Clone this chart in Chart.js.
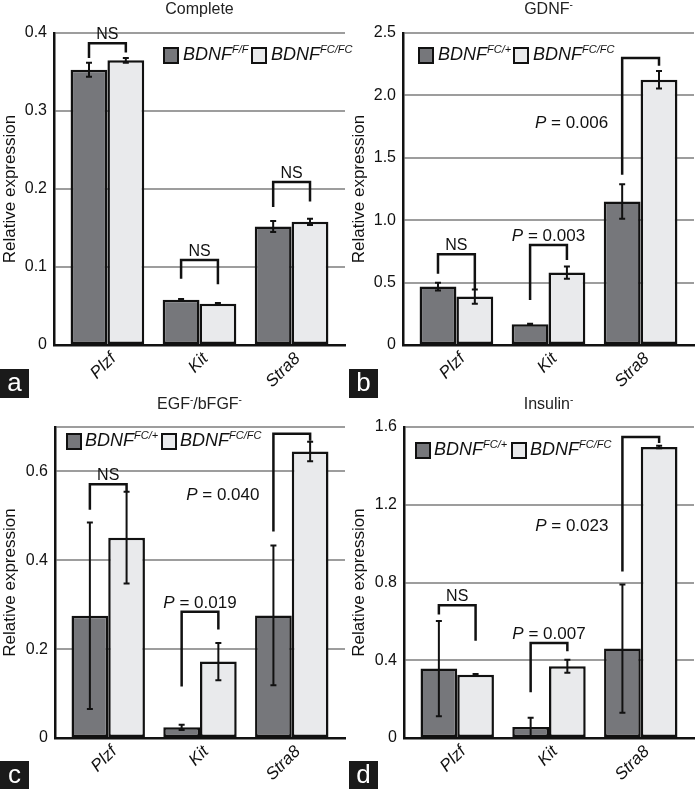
<!DOCTYPE html>
<html>
<head>
<meta charset="utf-8">
<script src="https://cdn.jsdelivr.net/npm/chart.js@4.4.1/dist/chart.umd.min.js"></script>
<style>
body { margin: 0; background: #fff; font-family: "Liberation Sans", Arial, sans-serif; }
#fig { position: relative; width: 698px; height: 789px; overflow: hidden; }
.panel { position: absolute; width: 349px; height: 395px; }
.panel canvas { position: absolute; left: 0; top: 0; }
.title { position: absolute; top: 0; left: 54px; width: 291px; text-align: center; font-size: 16px; line-height: 18px; color: #222; }
.title sup { font-size: 10px; vertical-align: 6px; line-height: 0; }
.legend { position: absolute; font-size: 18px; font-style: italic; color: #111; white-space: nowrap; }
.legend .key { position: absolute; top: 0; width: 12px; height: 13px; border: 2.5px solid #111; }
.legend .txt { position: absolute; top: -2px; line-height: 18px; }
.legend sup { font-size: 11px; vertical-align: 7px; line-height: 0; }
.letter { position: absolute; width: 29px; height: 29px; background: #1a1a1a; color: #fff; font-size: 26px; line-height: 26px; text-align: center; }
</style>
</head>
<body>
<div id="fig">
  <div class="panel" style="left:0;top:0">
    <canvas id="chartA" width="349" height="395"></canvas>
    <div class="title">Complete</div>
    <div class="legend" style="left:163px;top:47px">
      <span class="key" style="left:0;background:#76777b"></span><span class="txt" style="left:20px">BDNF<sup>F/F</sup></span>
      <span class="key" style="left:88px;background:#e9eaec"></span><span class="txt" style="left:108px">BDNF<sup>FC/FC</sup></span>
    </div>
    <div class="letter" style="left:0;top:369px">a</div>
  </div>
  <div class="panel" style="left:349px;top:0">
    <canvas id="chartB" width="349" height="395"></canvas>
    <div class="title">GDNF<sup>-</sup></div>
    <div class="legend" style="left:69px;top:47px">
      <span class="key" style="left:0;background:#76777b"></span><span class="txt" style="left:20px">BDNF<sup>FC/+</sup></span>
      <span class="key" style="left:95px;background:#e9eaec"></span><span class="txt" style="left:115px">BDNF<sup>FC/FC</sup></span>
    </div>
    <div class="letter" style="left:0;top:369px">b</div>
  </div>
  <div class="panel" style="left:0;top:395px">
    <canvas id="chartC" width="349" height="395"></canvas>
    <div class="title">EGF<sup>-</sup>/bFGF<sup>-</sup></div>
    <div class="legend" style="left:66px;top:38px">
      <span class="key" style="left:0;background:#76777b"></span><span class="txt" style="left:19px">BDNF<sup>FC/+</sup></span>
      <span class="key" style="left:95px;background:#e9eaec"></span><span class="txt" style="left:114px">BDNF<sup>FC/FC</sup></span>
    </div>
    <div class="letter" style="left:0;top:366px">c</div>
  </div>
  <div class="panel" style="left:349px;top:395px">
    <canvas id="chartD" width="349" height="395"></canvas>
    <div class="title">Insulin<sup>-</sup></div>
    <div class="legend" style="left:66px;top:47px">
      <span class="key" style="left:0;background:#76777b"></span><span class="txt" style="left:19px">BDNF<sup>FC/+</sup></span>
      <span class="key" style="left:96px;background:#e9eaec"></span><span class="txt" style="left:115px">BDNF<sup>FC/FC</sup></span>
    </div>
    <div class="letter" style="left:0;top:366px">d</div>
  </div>
</div>

<script>
// Shared categories
var genes = ['Plzf', 'Kit', 'Stra8'];

// a: Complete
var completeCtrl = [0.353, 0.058, 0.152];
var completeCtrlErr = [0.009, 0.001, 0.007];
var completeKo = [0.365, 0.053, 0.158];
var completeKoErr = [0.003, 0.001, 0.004];
var completeTicks = [0, 0.1, 0.2, 0.3, 0.4];
var completeTickLabels = ['0', '0.1', '0.2', '0.3', '0.4'];
var completeBracketTop = [0.387, 0.109, 0.209];
var completeLegLeft = [0.368, 0.085, 0.177];
var completeLegRight = [0.375, 0.078, 0.184];
var completeSig = ['NS', 'NS', 'NS'];
var completeSigSideY = [null, null, null];

// b: GDNF-
var gdnfCtrl = [0.468, 0.166, 1.15];
var gdnfCtrlErr = [0.031, 0.005, 0.139];
var gdnfKo = [0.388, 0.58, 2.126];
var gdnfKoErr = [0.057, 0.05, 0.07];
var gdnfTicks = [0, 0.5, 1.0, 1.5, 2.0, 2.5];
var gdnfTickLabels = ['0', '0.5', '1.0', '1.5', '2.0', '2.5'];
var gdnfBracketTop = [0.727, 0.802, 2.299];
var gdnfLegLeft = [0.57, 0.361, 1.364];
var gdnfLegRight = [0.44, 0.682, 2.238];
var gdnfSig = ['NS', '0.003', '0.006'];
var gdnfSigSideY = [null, null, 1.79];

// c: EGF-/bFGF-
var egfCtrl = [0.275, 0.024, 0.276];
var egfCtrlErr = [0.21, 0.006, 0.157];
var egfKo = [0.451, 0.172, 0.645];
var egfKoErr = [0.103, 0.042, 0.022];
var egfTicks = [0, 0.2, 0.4, 0.6, 0.7];
var egfTickLabels = ['0', '0.2', '0.4', '0.6', ''];
var egfBracketTop = [0.571, 0.284, 0.685];
var egfLegLeft = [0.514, 0.116, 0.465];
var egfLegRight = [0.555, 0.244, 0.669];
var egfSig = ['NS', '0.019', '0.040'];
var egfSigSideY = [null, null, 0.549];

// d: Insulin-
var insCtrl = [0.357, 0.057, 0.46];
var insCtrlErr = [0.245, 0.047, 0.33];
var insKo = [0.326, 0.369, 1.497];
var insKoErr = [0.003, 0.033, 0.006];
var insTicks = [0, 0.4, 0.8, 1.2, 1.6];
var insTickLabels = ['0', '0.4', '0.8', '1.2', '1.6'];
var insBracketTop = [0.683, 0.489, 1.549];
var insLegLeft = [0.635, 0.235, 0.857];
var insLegRight = [0.50, 0.446, 1.518];
var insSig = ['NS', '0.007', '0.023'];
var insSigSideY = [null, null, 1.098];

var FONT = '"Liberation Sans", Arial, sans-serif';

// error bars, significance brackets and slanted category labels
var annotatePlugin = {
    id: 'annotate',
    afterDatasetsDraw: function(chart) {
        var opts = chart.options.plugins.annotate;
        var ctx = chart.ctx;
        var y = chart.scales.y;
        ctx.save();
        ctx.strokeStyle = '#111';
        ctx.lineCap = 'butt';

        // error bars
        ctx.lineWidth = 2;
        chart.data.datasets.forEach(function(ds, i) {
            var meta = chart.getDatasetMeta(i);
            meta.data.forEach(function(bar, j) {
                var v = ds.data[j].y, e = ds.errors[j];
                var yt = y.getPixelForValue(v + e), yb = y.getPixelForValue(v - e);
                ctx.beginPath();
                ctx.moveTo(bar.x, yt); ctx.lineTo(bar.x, yb);
                ctx.moveTo(bar.x - 3, yt); ctx.lineTo(bar.x + 3, yt);
                ctx.moveTo(bar.x - 3, yb); ctx.lineTo(bar.x + 3, yb);
                ctx.stroke();
            });
        });

        // brackets
        var m0 = chart.getDatasetMeta(0), m1 = chart.getDatasetMeta(1);
        ctx.lineWidth = 2.5;
        ctx.fillStyle = '#111';
        opts.top.forEach(function(top, j) {
            var xl = m0.data[j].x, xr = m1.data[j].x;
            var yTop = y.getPixelForValue(top);
            ctx.beginPath();
            ctx.moveTo(xl, y.getPixelForValue(opts.legLeft[j]));
            ctx.lineTo(xl, yTop);
            ctx.lineTo(xr, yTop);
            ctx.lineTo(xr, y.getPixelForValue(opts.legRight[j]));
            ctx.stroke();

            var sig = opts.sig[j];
            var side = opts.sideY[j];
            if (sig === 'NS') {
                ctx.font = '16px ' + FONT;
                ctx.textAlign = 'center';
                ctx.textBaseline = 'alphabetic';
                ctx.fillText('NS', (xl + xr) / 2, yTop - 4);
                return;
            }
            var rest = ' = ' + sig;
            ctx.font = 'italic 17px ' + FONT;
            var wP = ctx.measureText('P').width;
            ctx.font = '17px ' + FONT;
            var wR = ctx.measureText(rest).width;
            var x0, ty;
            if (side === null) {
                x0 = (xl + xr) / 2 - (wP + wR) / 2;
                ty = yTop - 4;
            } else {
                x0 = xl - 14 - (wP + wR);
                ty = y.getPixelForValue(side) + 6;
            }
            ctx.textAlign = 'left';
            ctx.textBaseline = 'alphabetic';
            ctx.font = 'italic 17px ' + FONT;
            ctx.fillText('P', x0, ty);
            ctx.font = '17px ' + FONT;
            ctx.fillText(rest, x0 + wP, ty);
        });

        // category labels at 45 degrees, anchored on the x scale
        var xs = chart.scales.x;
        ctx.font = 'italic 17px ' + FONT;
        ctx.textAlign = 'right';
        ctx.textBaseline = 'middle';
        genes.forEach(function(lab, j) {
            ctx.save();
            ctx.translate(xs.getPixelForValue(j) + 6, xs.top + 11);
            ctx.rotate(-Math.PI / 4);
            ctx.fillText(lab, 0, 0);
            ctx.restore();
        });
        ctx.restore();
    }
};

function points(values) {
    return values.map(function(v, j) { return { x: j, y: v }; });
}

function makeChart(id, ctrl, ctrlErr, ko, koErr, ticks, tickLabels, top, legLeft, legRight, sig, sideY, row) {
    var padTop = row === 0 ? 33 : 32;
    var axisLeft = row === 0 ? 54 : 55;
    var xHeight = row === 0 ? 50 : 52;
    return new Chart(document.getElementById(id), {
        type: 'bar',
        data: {
            datasets: [
                {
                    data: points(ctrl),
                    errors: ctrlErr,
                    backgroundColor: '#76777b',
                    borderColor: '#111',
                    borderWidth: 2.5,
                    borderSkipped: false
                },
                {
                    data: points(ko),
                    errors: koErr,
                    backgroundColor: '#e9eaec',
                    borderColor: '#111',
                    borderWidth: 2.5,
                    borderSkipped: false
                }
            ]
        },
        options: {
            responsive: false,
            animation: false,
            devicePixelRatio: 1,
            layout: { padding: { left: 0, top: padTop, right: 4, bottom: 0 } },
            datasets: { bar: { barPercentage: 1.0, categoryPercentage: 0.8 } },
            plugins: {
                legend: { display: false },
                tooltip: { enabled: false },
                annotate: { top: top, legLeft: legLeft, legRight: legRight, sig: sig, sideY: sideY }
            },
            scales: {
                x: {
                    type: 'linear',
                    offset: false,
                    min: -0.58,
                    max: 2.58,
                    afterBuildTicks: function(s) {
                        s.ticks = genes.map(function(g, j) { return { value: j }; });
                    },
                    grid: { display: false, drawTicks: false },
                    border: { color: '#111', width: 2.5 },
                    afterFit: function(s) { s.height = xHeight; },
                    ticks: { display: false }
                },
                y: {
                    min: ticks[0],
                    max: ticks[ticks.length - 1],
                    afterFit: function(s) { s.width = axisLeft; },
                    afterBuildTicks: function(s) {
                        s.ticks = ticks.map(function(v) { return { value: v }; });
                    },
                    grid: {
                        drawTicks: false,
                        lineWidth: 2,
                        color: function(c) { return c.tick && c.tick.value === 0 ? 'rgba(0,0,0,0)' : '#9d9d9d'; }
                    },
                    border: { color: '#111', width: 2.5 },
                    title: {
                        display: true,
                        text: 'Relative expression',
                        color: '#111',
                        padding: 0,
                        font: { family: FONT, size: 17 }
                    },
                    ticks: {
                        color: '#111',
                        padding: 7,
                        font: { family: FONT, size: 16 },
                        callback: function(v, i) { return tickLabels[i]; }
                    }
                }
            }
        },
        plugins: [annotatePlugin]
    });
}

makeChart('chartA', completeCtrl, completeCtrlErr, completeKo, completeKoErr, completeTicks, completeTickLabels,
    completeBracketTop, completeLegLeft, completeLegRight, completeSig, completeSigSideY, 0);
makeChart('chartB', gdnfCtrl, gdnfCtrlErr, gdnfKo, gdnfKoErr, gdnfTicks, gdnfTickLabels,
    gdnfBracketTop, gdnfLegLeft, gdnfLegRight, gdnfSig, gdnfSigSideY, 0);
makeChart('chartC', egfCtrl, egfCtrlErr, egfKo, egfKoErr, egfTicks, egfTickLabels,
    egfBracketTop, egfLegLeft, egfLegRight, egfSig, egfSigSideY, 1);
makeChart('chartD', insCtrl, insCtrlErr, insKo, insKoErr, insTicks, insTickLabels,
    insBracketTop, insLegLeft, insLegRight, insSig, insSigSideY, 1);
</script>
</body>
</html>
